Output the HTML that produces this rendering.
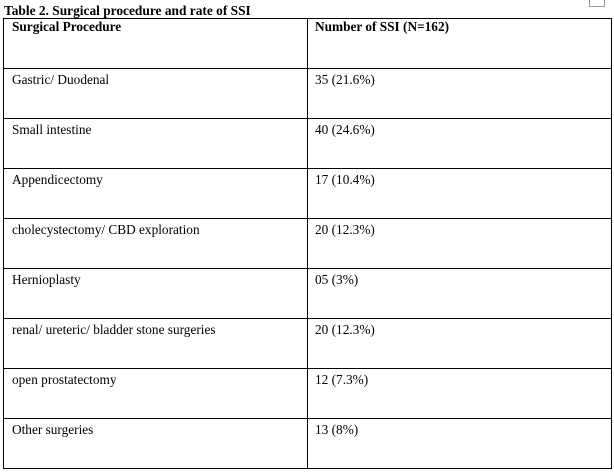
<!DOCTYPE html>
<html><head><meta charset="utf-8"><style>
body{margin:0;width:614px;height:475px;background:#fff;position:relative;overflow:hidden;font-family:"Liberation Serif",serif;color:#000}
.t{position:absolute;white-space:nowrap}
.h{position:absolute;background:#000}
</style></head><body>
<div class="t" style="left:4px;top:3px;font-size:13.4px;font-weight:bold">Table 2. Surgical procedure and rate of SSI</div>
<div style="position:absolute;left:589px;top:-1px;width:14px;height:6px;border:1px solid #999"></div>
<div id="tbl"></div>
<script>
const procedures=["Gastric/ Duodenal","Small intestine","Appendicectomy","cholecystectomy/ CBD exploration","Hernioplasty","renal/ ureteric/ bladder stone surgeries","open prostatectomy","Other surgeries"];
const counts=["35 (21.6%)","40 (24.6%)","17 (10.4%)","20 (12.3%)","05 (3%)","20 (12.3%)","12 (7.3%)","13 (8%)"];
const tbl=document.getElementById('tbl');
const L=3,R=611,M=307,T=18,RH=50;
const n=procedures.length+1,B=T+RH*n;
function line(x,y,w,h,name){const d=document.createElement('div');d.className='h';d.style.cssText=`left:${x}px;top:${y}px;width:${w}px;height:${h}px`;


tbl.appendChild(d);}
for(let i=0;i<=n;i++)line(L,T+i*RH,R-L+1,1,'row-border');
line(L,T,1,B-T+1,'left-border');line(M,T,1,B-T+1,'column-divider');line(R,T,1,B-T+1,'right-border');
function txt(s,x,y,bold,name){const d=document.createElement('div');d.className='t';d.textContent=s;d.style.cssText=`left:${x}px;top:${y}px;font-size:13.3px;${bold?'font-weight:bold;':''}`;


tbl.appendChild(d);}
txt('Surgical Procedure',12,T+1,true,'header-procedure');
txt('Number of SSI (N=162)',315,T+1,true,'header-count');
procedures.forEach((p,i)=>{const y=T+RH*(i+1)+4;txt(p,12,y,false,'procedure-cell');txt(counts[i],315,y,false,'count-cell');});
</script>
</body></html>
